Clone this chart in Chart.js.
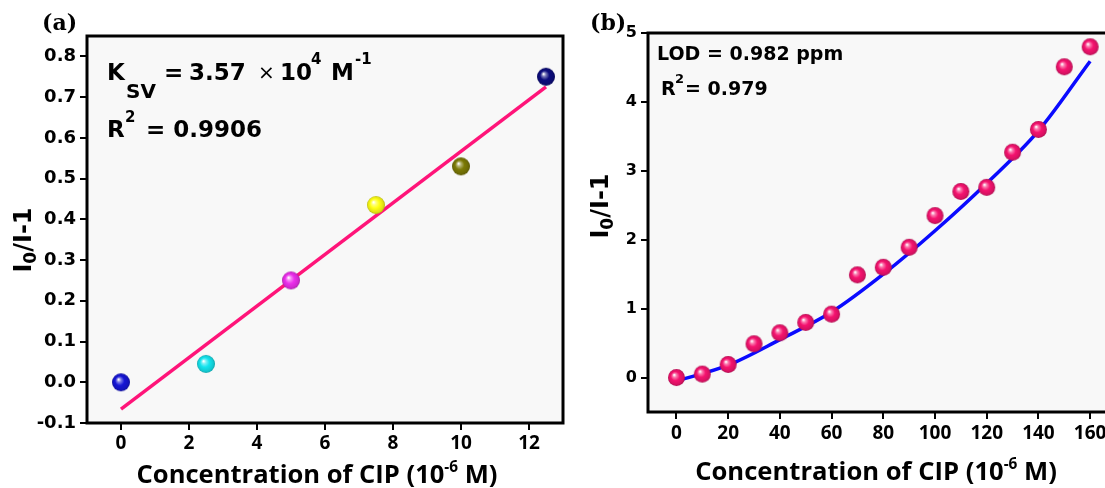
<!DOCTYPE html>
<html><head><meta charset="utf-8">
<script src="https://cdn.jsdelivr.net/npm/chart.js@4.4.0/dist/chart.umd.min.js"></script>
<style>
html,body{margin:0;padding:0;background:#fff;overflow:hidden;width:1105px;height:488px;}
#ca{position:absolute;left:0;top:0;}
#cb{position:absolute;left:580px;top:0;}
</style></head><body>
<canvas id="ca" width="580" height="488"></canvas>
<canvas id="cb" width="560" height="488"></canvas>
<script>
// ---------- Panel (a) data ----------
const concA   = [0, 2.5, 5, 7.5, 10, 12.5];
const quenchA = [0.0, 0.045, 0.25, 0.435, 0.53, 0.75];
const colorsA = ['#1616d6', '#14e4ee', '#ec2eec', '#ffff14', '#7c7a06', '#0c0c7e'];
const fitConcA = [0, 12.5];
const fitA     = [-0.066, 0.725];
const xTicksA = [0, 2, 4, 6, 8, 10, 12];
const yTicksA = [-0.1, 0.0, 0.1, 0.2, 0.3, 0.4, 0.5, 0.6, 0.7, 0.8];

// ---------- Panel (b) data ----------
const concB   = [0, 10, 20, 30, 40, 50, 60, 70, 80, 90, 100, 110, 120, 130, 140, 150, 160];
const quenchB = [0.00, 0.05, 0.19, 0.49, 0.65, 0.80, 0.92, 1.49, 1.60, 1.89, 2.35, 2.70, 2.76, 3.27, 3.60, 4.51, 4.80];
const fitConcB = [0, 20, 40, 60, 80, 100, 120, 140, 160];
const fitB     = [-0.05, 0.18, 0.55, 0.95, 1.50, 2.13, 2.82, 3.58, 4.59];
const xTicksB = [0, 20, 40, 60, 80, 100, 120, 140, 160];
const yTicksB = [0, 1, 2, 3, 4, 5];

// ---------- Texts ----------
const panelLabelA = '(a)', panelLabelB = '(b)';
const xTitleMain = 'Concentration of CIP (10', xTitleSup = '-6', xTitleEnd = ' M)';
const yTitleMain = 'I', yTitleSub = '0', yTitleRest = '/I-1';
const ksvText = ['K', 'SV', '=', '3.57', '\u00d7', '10', '4', 'M', '-1'];
const r2A = '0.9906';
const lodText = 'LOD = 0.982 ppm';
const r2B = '0.979';

// ---------- helpers ----------
function hexToRgb(h){h=h.replace('#','');return [parseInt(h.substr(0,2),16),parseInt(h.substr(2,2),16),parseInt(h.substr(4,2),16)];}
function mix(c, t, f){const a=hexToRgb(c), b=hexToRgb(t);return 'rgb('+a.map((v,i)=>Math.round(v+(b[i]-v)*f)).join(',')+')';}
function sphere(color, r){
  const s = Math.ceil(2*r+2);
  const c = document.createElement('canvas'); c.width = s; c.height = s;
  const g = c.getContext('2d'); const cx = s/2, cy = s/2;
  const grad = g.createRadialGradient(cx - r*0.28, cy - r*0.32, r*0.04, cx, cy, r);
  grad.addColorStop(0, '#ffffff');
  grad.addColorStop(0.2, mix(color, '#ffffff', 0.45));
  grad.addColorStop(0.5, color);
  grad.addColorStop(0.85, mix(color, '#000000', 0.12));
  grad.addColorStop(1, mix(color, '#000000', 0.3));
  g.fillStyle = grad; g.beginPath(); g.arc(cx, cy, r, 0, Math.PI*2); g.fill();
  return c;
}
function txt(ctx, s, x, y, size, family, weight){
  ctx.font = (weight||'bold') + ' ' + size + 'px ' + (family||'"DejaVu Sans"');
  ctx.textAlign = 'left'; ctx.textBaseline = 'alphabetic'; ctx.fillStyle = '#000';
  ctx.fillText(s, x, y); return ctx.measureText(s).width;
}
function drawYTitle(ctx, cx, cy){
  ctx.save(); ctx.translate(cx, cy); ctx.rotate(-Math.PI/2);
  const big = 24, small = 17;
  ctx.font = 'bold '+big+'px "DejaVu Sans"';
  const wI = ctx.measureText(yTitleMain).width, wR = ctx.measureText(yTitleRest).width;
  ctx.font = 'bold '+small+'px "DejaVu Sans"';
  const w0 = ctx.measureText(yTitleSub).width;
  let x = -(wI + w0 + wR)/2; const base = 0.365*big;
  x += txt(ctx, yTitleMain, x, base, big);
  x += txt(ctx, yTitleSub, x, base + 5, small);
  txt(ctx, yTitleRest, x, base, big);
  ctx.restore();
}
function drawXTitle(ctx, cx, base, targetW){
  const fam = '"Open Sans"';
  ctx.font = 'bold 25px '+fam;
  let w = ctx.measureText(xTitleMain).width + ctx.measureText(xTitleEnd).width;
  ctx.font = 'bold 15px '+fam; w += ctx.measureText(xTitleSup).width;
  const size = 25 * targetW / w, sup = size*0.6;
  ctx.font = 'bold '+size+'px '+fam;
  const w1 = ctx.measureText(xTitleMain).width, w3 = ctx.measureText(xTitleEnd).width;
  ctx.font = 'bold '+sup+'px '+fam;
  const w2 = ctx.measureText(xTitleSup).width;
  let x = cx - (w1+w2+w3)/2;
  x += txt(ctx, xTitleMain, x, base, size, fam);
  x += txt(ctx, xTitleSup, x, base - size*0.42, sup, fam);
  txt(ctx, xTitleEnd, x, base, size, fam);
}
const framePlugin = {
  id: 'frame',
  beforeDraw(chart){
    const {ctx, chartArea:a} = chart;
    ctx.save(); ctx.fillStyle = '#f8f8f8'; ctx.fillRect(a.left, a.top, a.right-a.left, a.bottom-a.top); ctx.restore();
  },
  afterDraw(chart){
    const {ctx, chartArea:a} = chart;
    ctx.save(); ctx.strokeStyle = '#000'; ctx.lineWidth = 3;
    ctx.strokeRect(a.left, a.top, a.right-a.left, a.bottom-a.top); ctx.restore();
  }
};
const annotA = {
  id: 'annotA',
  afterDraw(chart){
    const ctx = chart.ctx; ctx.save();
    txt(ctx, panelLabelA, 42, 30, 22, '"DejaVu Serif"');
    txt(ctx, ksvText[0], 107, 80, 23);
    txt(ctx, ksvText[1], 126, 98, 20);
    txt(ctx, ksvText[2], 164, 80, 23);
    txt(ctx, ksvText[3], 189, 80, 23);
    txt(ctx, ksvText[4], 258, 79, 20, '"DejaVu Sans"', 'normal');
    txt(ctx, ksvText[5], 280, 80, 23);
    txt(ctx, ksvText[6], 311, 64, 15);
    txt(ctx, ksvText[7], 331, 80, 23);
    txt(ctx, ksvText[8], 355, 64, 15);
    txt(ctx, 'R', 107, 137, 23);
    txt(ctx, '2', 125, 122, 15);
    txt(ctx, '= ' + r2A, 146, 137, 23);
    drawYTitle(ctx, 22, 240);
    drawXTitle(ctx, 317, 483, 361);
    ctx.restore();
  }
};
const annotB = {
  id: 'annotB',
  afterDraw(chart){
    const ctx = chart.ctx; ctx.save();
    txt(ctx, panelLabelB, 10, 30, 22, '"DejaVu Serif"');
    txt(ctx, lodText, 77, 60, 19);
    txt(ctx, 'R', 81, 95, 19);
    txt(ctx, '2', 95, 83, 13);
    txt(ctx, '= ' + r2B, 105, 95, 19);
    drawYTitle(ctx, 19, 206);
    drawXTitle(ctx, 296, 480, 362);
    ctx.restore();
  }
};
function axisCommon(extra){
  return Object.assign({
    type: 'linear',
    grid: {drawOnChartArea: false, drawTicks: true, tickLength: 7, lineWidth: 2, color: '#000', tickColor: '#000'},
    border: {display: false}
  }, extra);
}

new Chart(document.getElementById('ca'), {
  type: 'scatter',
  data: { datasets: [
    { data: concA.map((x,i)=>({x, y: quenchA[i]})), pointStyle: colorsA.map(c=>sphere(c, 9)), pointRadius: 9, showLine: false },
    { type: 'line', data: fitConcA.map((x,i)=>({x, y: fitA[i]})), borderColor: '#ff1479', borderWidth: 3.5, pointRadius: 0, fill: false }
  ]},
  options: {
    responsive: false, animation: false, devicePixelRatio: 1,
    layout: {padding: {top: 36, right: 17, left: 0, bottom: 0}},
    plugins: {legend: {display: false}, tooltip: {enabled: false}},
    scales: {
      x: axisCommon({min: -1, max: 13,
        afterFit(s){ s.height = 65; },
        afterBuildTicks(s){ s.ticks = xTicksA.map(v=>({value: v})); },
        ticks: {font: {family: '"Open Sans"', weight: 'bold', size: 19}, color: '#000', padding: 2, maxRotation: 0, autoSkip: false}}),
      y: axisCommon({min: -0.1, max: 0.85,
        afterFit(s){ s.width = 87; },
        afterBuildTicks(s){ s.ticks = yTicksA.map(v=>({value: v})); },
        ticks: {font: {family: '"DejaVu Sans"', weight: 'bold', size: 18}, color: '#000', padding: 4, autoSkip: false,
          callback: v => Number(v).toFixed(1)}})
    }
  },
  plugins: [framePlugin, annotA]
});

new Chart(document.getElementById('cb'), {
  type: 'scatter',
  data: { datasets: [
    { data: concB.map((x,i)=>({x, y: quenchB[i]})), pointStyle: sphere('#f5136f', 8.5), pointRadius: 8.5, showLine: false },
    { type: 'line', data: fitConcB.map((x,i)=>({x, y: fitB[i]})), borderColor: '#0a0aff', borderWidth: 3.5, pointRadius: 0, fill: false, cubicInterpolationMode: 'monotone' }
  ]},
  options: {
    responsive: false, animation: false, devicePixelRatio: 1,
    layout: {padding: {top: 33, right: 24, left: 0, bottom: 0}},
    plugins: {legend: {display: false}, tooltip: {enabled: false}},
    scales: {
      x: axisCommon({min: -11, max: 170,
        afterFit(s){ s.height = 76; },
        afterBuildTicks(s){ s.ticks = xTicksB.map(v=>({value: v})); },
        ticks: {font: {family: '"Open Sans"', weight: 'bold', size: 19}, color: '#000', padding: 3, maxRotation: 0, autoSkip: false}}),
      y: axisCommon({min: -0.5, max: 5,
        afterFit(s){ s.width = 68; },
        afterBuildTicks(s){ s.ticks = yTicksB.map(v=>({value: v})); },
        ticks: {font: {family: '"DejaVu Sans"', weight: 'bold', size: 16}, color: '#000', padding: 4, autoSkip: false}})
    }
  },
  plugins: [framePlugin, annotB]
});
</script>
</body></html>
